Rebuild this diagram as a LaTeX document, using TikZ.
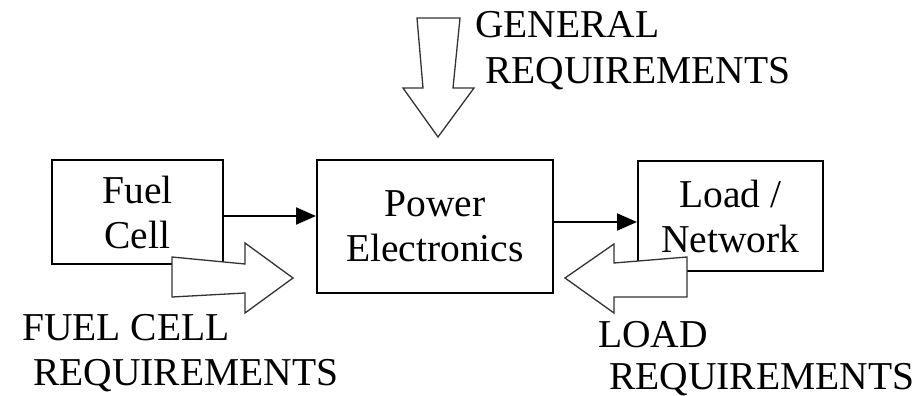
\documentclass[tikz,border=0pt]{standalone}
\usepackage{fontspec}
\setmainfont{Liberation Serif}
\usetikzlibrary{arrows.meta}
\begin{document}
\begin{tikzpicture}[x=1pt,y=-1pt,
  blk/.style={draw=black,line width=2pt,inner sep=0pt,align=center,
    font=\fontsize{39.5}{45}\selectfont},
  conn/.style={draw=black,line width=2pt,-{Triangle[length=20pt,width=17pt]}},
  fat/.style={draw=black!80,line width=1.3pt,fill=white,line join=miter},
  lbl/.style={anchor=base west,inner sep=0pt,font=\fontsize{39.5}{45}\selectfont}]
\useasboundingbox (0,0) rectangle (921,396);
% boxes
\node[blk,minimum width=171pt,minimum height=104pt] (fc) at (137.5,212) {Fuel\\Cell};
\node[blk,minimum width=236pt,minimum height=133pt] (pe) at (435,226.5) {Power\\Electronics};
\node[blk,minimum width=185pt,minimum height=110pt] (ld) at (730.5,216) {Load /\\Network};
% connectors
\draw[conn] ([yshift=-4pt]fc.east) -- ([yshift=-4pt]fc.east -| pe.west);
\draw[conn] ([yshift=4.5pt]pe.east) -- ([yshift=4.5pt]pe.east -| ld.west);
% block arrows
\draw[fat] (172,257) -- (245,264) -- (245,243) -- (293,278) -- (245,313) -- (245,293) -- (172,297) -- cycle;
\draw[fat] (687,257) -- (614,263) -- (614,244) -- (565,278) -- (614,313) -- (614,297) -- (687,297) -- cycle;
\draw[fat] (417,18) -- (460,18) -- (453,88) -- (474,88) -- (438,137) -- (403,88) -- (423,88) -- cycle;
% labels
\node[lbl] (g1) at (475,38) {GENERAL};
\node[lbl] (g2) at (485,83) {REQUIREMENTS};
\node[lbl] (f1) at (22,340) {FUEL CELL};
\node[lbl] (f2) at (33,385) {REQUIREMENTS};
\node[lbl] (l1) at (598,347) {LOAD};
\node[lbl] (l2) at (609,389) {REQUIREMENTS};
\end{tikzpicture}
\end{document}
